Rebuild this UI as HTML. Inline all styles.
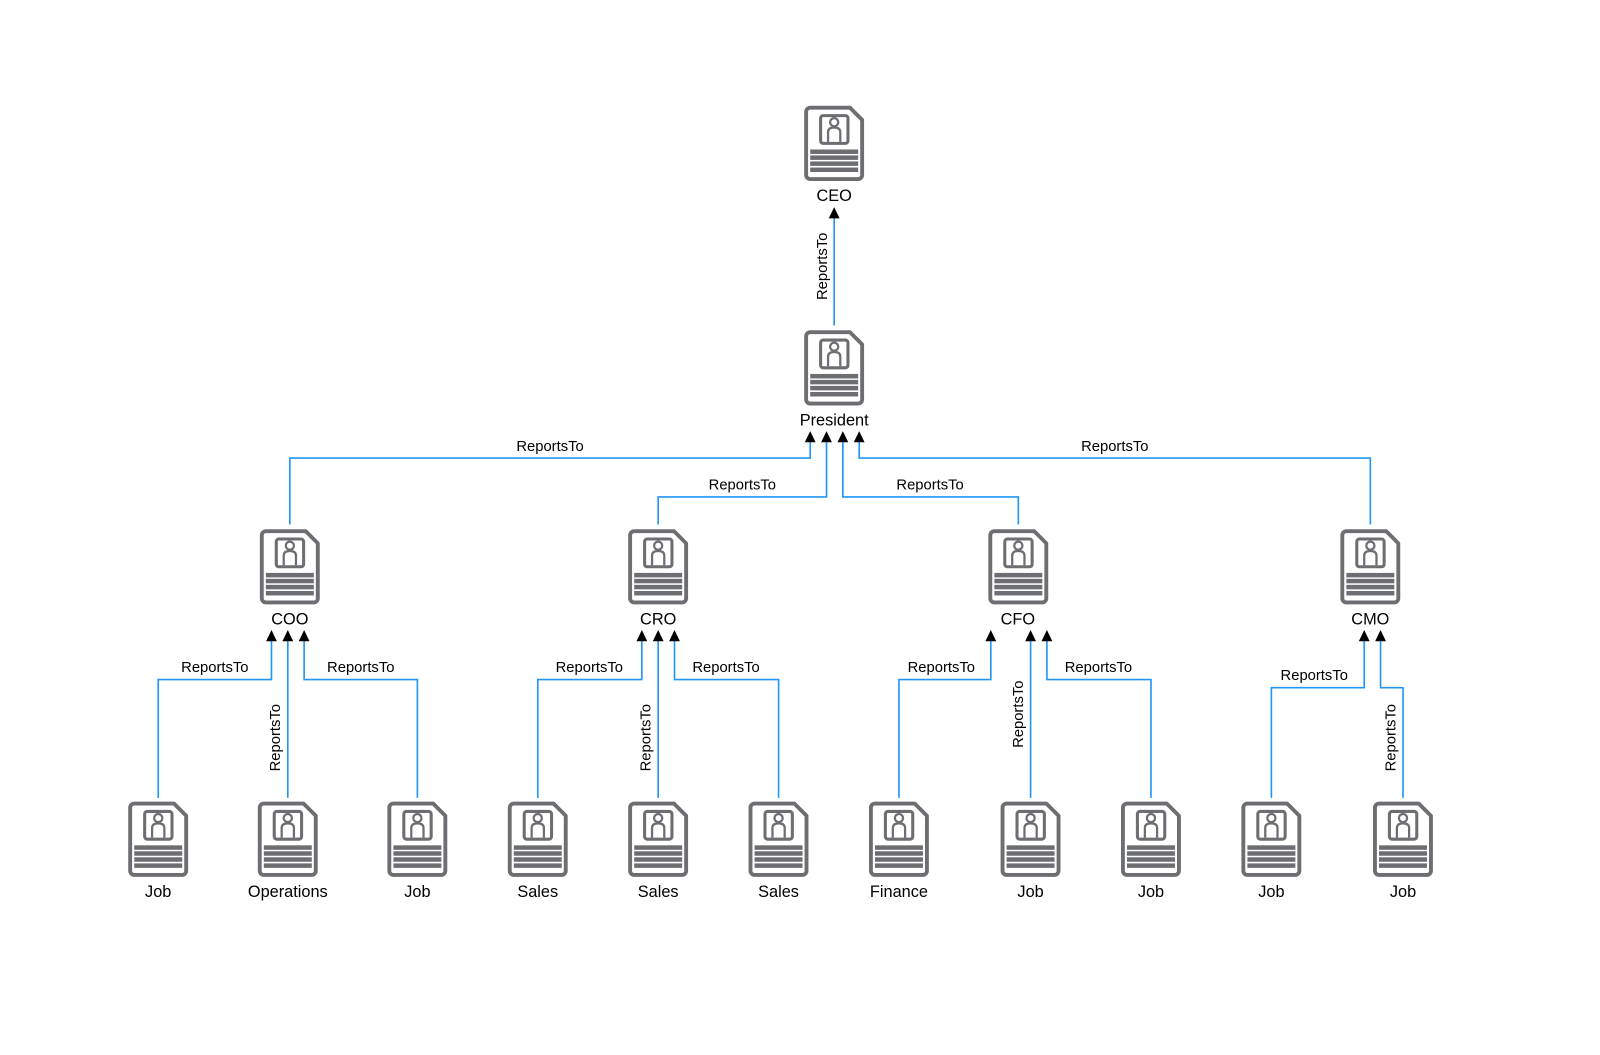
<!DOCTYPE html>
<html><head><meta charset="utf-8"><style>
html,body{margin:0;padding:0;background:#fff}
svg{display:block}
text{font-family:"Liberation Sans",Arial,sans-serif;fill:#000;text-anchor:middle}
.n{font-size:16px}.e{font-size:14.5px}
.l{fill:none;stroke:#2196f6;stroke-width:1.6}
</style></head><body>
<svg width="1600" height="1055" viewBox="0 0 1568 1034" xmlns="http://www.w3.org/2000/svg">
<defs>
<g id="i">
<path d="M5.5 1.600H44.5L56.400 13.500V67.500a4 4 0 0 1-4 4H5.500a4 4 0 0 1-4-4V5.600a4 4 0 0 1 4-4Z" fill="#fff" stroke="#6d6e71" stroke-width="3.800" stroke-linejoin="round"/>
<rect x="15.700" y="9.300" width="26.800" height="27.200" rx="2.500" fill="none" stroke="#6d6e71" stroke-width="3"/>
<circle cx="29" cy="15.800" r="4" fill="none" stroke="#6d6e71" stroke-width="2.200"/>
<path d="M23 35V25.500Q23 21 29 21T35 25.500V35" fill="none" stroke="#6d6e71" stroke-width="2.200"/>
<g fill="#6d6e71"><rect x="5.500" y="42.500" width="47" height="4.400"/><rect x="5.500" y="48.300" width="47" height="4.400"/><rect x="5.500" y="54.200" width="47" height="4.400"/><rect x="5.500" y="60.200" width="47" height="4.400"/></g>
</g>
<path id="a" d="M0 0L5.300 11H-5.300Z" fill="#000"/>
</defs>
<g class="l">
<path d="M817.500 319V212"/>
<path d="M284 514V449H794V432"/><path d="M645 514V487H810V432"/><path d="M998 514V487H826V432"/><path d="M1343 514V449H842V432"/>
<path d="M155 782V666H266V627"/><path d="M282 782V627"/><path d="M409 782V666H298V627"/>
<path d="M527 782V666H629V627"/><path d="M645 782V627"/><path d="M763 782V666H661V627"/>
<path d="M881 782V666H971V627"/><path d="M1010 782V627"/><path d="M1128 782V666H1026V627"/>
<path d="M1246 782V674H1337V627"/><path d="M1375 782V674H1353V627"/>
</g>
<use href="#a" x="817.500" y="203"/>
<use href="#a" x="794" y="422.500"/><use href="#a" x="810" y="422.500"/><use href="#a" x="826" y="422.500"/><use href="#a" x="842" y="422.500"/>
<use href="#a" x="266" y="617.500"/><use href="#a" x="282" y="617.500"/><use href="#a" x="298" y="617.500"/>
<use href="#a" x="629" y="617.500"/><use href="#a" x="645" y="617.500"/><use href="#a" x="661" y="617.500"/>
<use href="#a" x="971" y="617.500"/><use href="#a" x="1010" y="617.500"/><use href="#a" x="1026" y="617.500"/>
<use href="#a" x="1337" y="617.500"/><use href="#a" x="1353" y="617.500"/>

<use href="#i" x="788.500" y="104"/><use href="#i" x="788.500" y="324"/>
<use href="#i" x="255" y="519"/><use href="#i" x="616" y="519"/><use href="#i" x="969" y="519"/><use href="#i" x="1314" y="519"/>
<use href="#i" x="126" y="786"/><use href="#i" x="253" y="786"/><use href="#i" x="380" y="786"/><use href="#i" x="498" y="786"/><use href="#i" x="616" y="786"/><use href="#i" x="734" y="786"/><use href="#i" x="852" y="786"/><use href="#i" x="981" y="786"/><use href="#i" x="1099" y="786"/><use href="#i" x="1217" y="786"/><use href="#i" x="1346" y="786"/>

<g class="n">
<text x="817.500" y="197">CEO</text><text x="817.500" y="417">President</text>
<text x="284" y="612">COO</text><text x="645" y="612">CRO</text><text x="997.500" y="612">CFO</text><text x="1343" y="612">CMO</text>
<text x="155" y="879">Job</text><text x="282" y="879">Operations</text><text x="409" y="879">Job</text><text x="527" y="879">Sales</text><text x="645" y="879">Sales</text><text x="763" y="879">Sales</text><text x="881" y="879">Finance</text><text x="1010" y="879">Job</text><text x="1128" y="879">Job</text><text x="1246" y="879">Job</text><text x="1375" y="879">Job</text>
</g>
<g class="e">
<text x="539" y="442">ReportsTo</text><text x="727.500" y="480">ReportsTo</text><text x="911.500" y="480">ReportsTo</text><text x="1092.500" y="442">ReportsTo</text>
<text x="210.500" y="658.500">ReportsTo</text><text x="353.500" y="658.500">ReportsTo</text><text x="577.500" y="658.500">ReportsTo</text><text x="711.500" y="658.500">ReportsTo</text><text x="922.500" y="658.500">ReportsTo</text><text x="1076.500" y="658.500">ReportsTo</text><text x="1288" y="666.500">ReportsTo</text>
<text transform="translate(810.500 261) rotate(-90)">ReportsTo</text>
<text transform="translate(274.500 723) rotate(-90)">ReportsTo</text>
<text transform="translate(637.500 723) rotate(-90)">ReportsTo</text>
<text transform="translate(1002.500 700) rotate(-90)">ReportsTo</text>
<text transform="translate(1367.500 723) rotate(-90)">ReportsTo</text>
</g>
</svg>
</body></html>
